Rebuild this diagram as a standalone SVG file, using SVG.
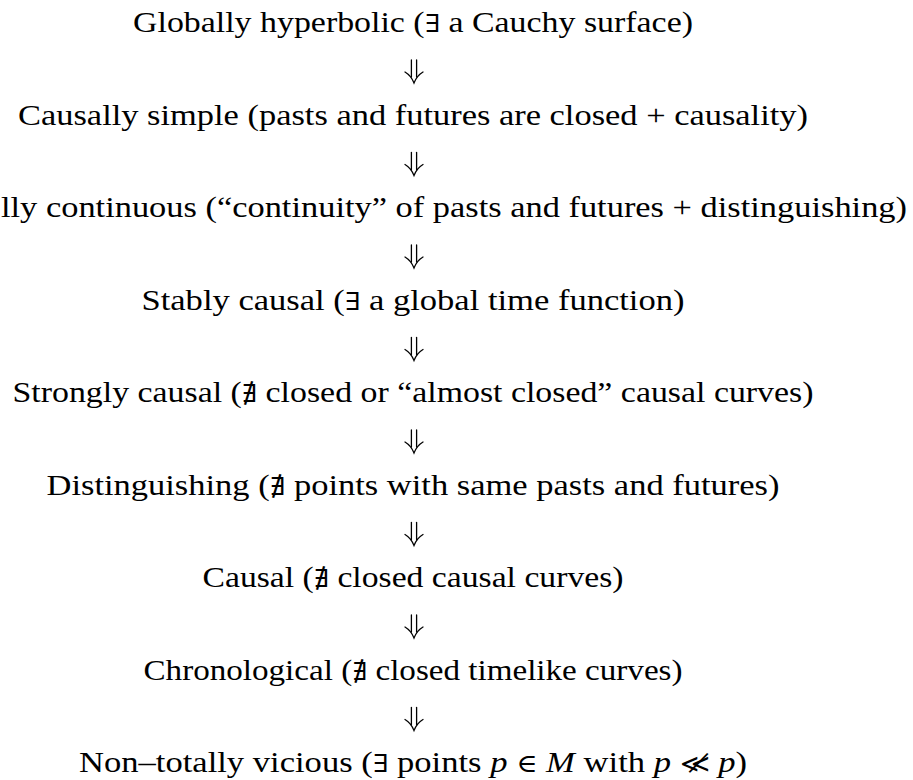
<svg xmlns="http://www.w3.org/2000/svg" width="913" height="780" viewBox="0 0 913 780">
<style>
text{font-family:'Liberation Serif','Times New Roman',serif;font-size:30px;fill:#000}
.t{text-anchor:middle}
.i{font-style:italic}
.s{font-family:'DejaVu Serif',serif;font-size:25px}
.arr{fill:none;stroke:#000;stroke-width:1.3;stroke-linecap:round}
</style>
<defs>
<g id="dar">
<path d="M-2.6,0 V17"/>
<path d="M2.6,0 V17"/>
<path d="M-9,12 Q-3,15.5 0,23 Q3,15.5 9,12"/>
</g>
</defs>
<rect width="913" height="780" fill="#fff"/>
<g id="n1"><text class="t" x="413" y="32" textLength="560" lengthAdjust="spacingAndGlyphs">Globally hyperbolic (<tspan class="s">∃</tspan> a Cauchy surface)</text></g>
<g id="n2"><text class="t" x="413" y="124.5" textLength="790" lengthAdjust="spacingAndGlyphs">Causally simple (pasts and futures are closed + causality)</text></g>
<g id="n3"><text x="1" y="217" textLength="906" lengthAdjust="spacingAndGlyphs">lly continuous (“continuity” of pasts and futures + distinguishing)</text></g>
<g id="n4"><text class="t" x="413" y="309.5" textLength="543" lengthAdjust="spacingAndGlyphs">Stably causal (<tspan class="s">∃</tspan> a global time function)</text></g>
<g id="n5"><text class="t" x="413" y="402" textLength="801" lengthAdjust="spacingAndGlyphs">Strongly causal (<tspan class="s">∄</tspan> closed or “almost closed” causal curves)</text></g>
<g id="n6"><text class="t" x="413" y="494.5" textLength="733" lengthAdjust="spacingAndGlyphs">Distinguishing (<tspan class="s">∄</tspan> points with same pasts and futures)</text></g>
<g id="n7"><text class="t" x="413" y="587" textLength="421" lengthAdjust="spacingAndGlyphs">Causal (<tspan class="s">∄</tspan> closed causal curves)</text></g>
<g id="n8"><text class="t" x="413" y="679.5" textLength="539" lengthAdjust="spacingAndGlyphs">Chronological (<tspan class="s">∄</tspan> closed timelike curves)</text></g>
<g id="n9"><text class="t" x="413" y="772" textLength="668" lengthAdjust="spacingAndGlyphs">Non–totally vicious (<tspan class="s">∃</tspan> points <tspan class="i">p</tspan> <tspan class="s">∈</tspan> <tspan class="i">M</tspan> with <tspan class="i">p</tspan> <tspan class="s">≪̸</tspan> <tspan class="i">p</tspan>)</text></g>
<g id="connectors" class="arr">
<use href="#dar" x="414" y="60"/>
<use href="#dar" x="414" y="152.5"/>
<use href="#dar" x="414" y="245"/>
<use href="#dar" x="414" y="337.5"/>
<use href="#dar" x="414" y="430"/>
<use href="#dar" x="414" y="522.5"/>
<use href="#dar" x="414" y="615"/>
<use href="#dar" x="414" y="707.5"/>
</g>
</svg>
